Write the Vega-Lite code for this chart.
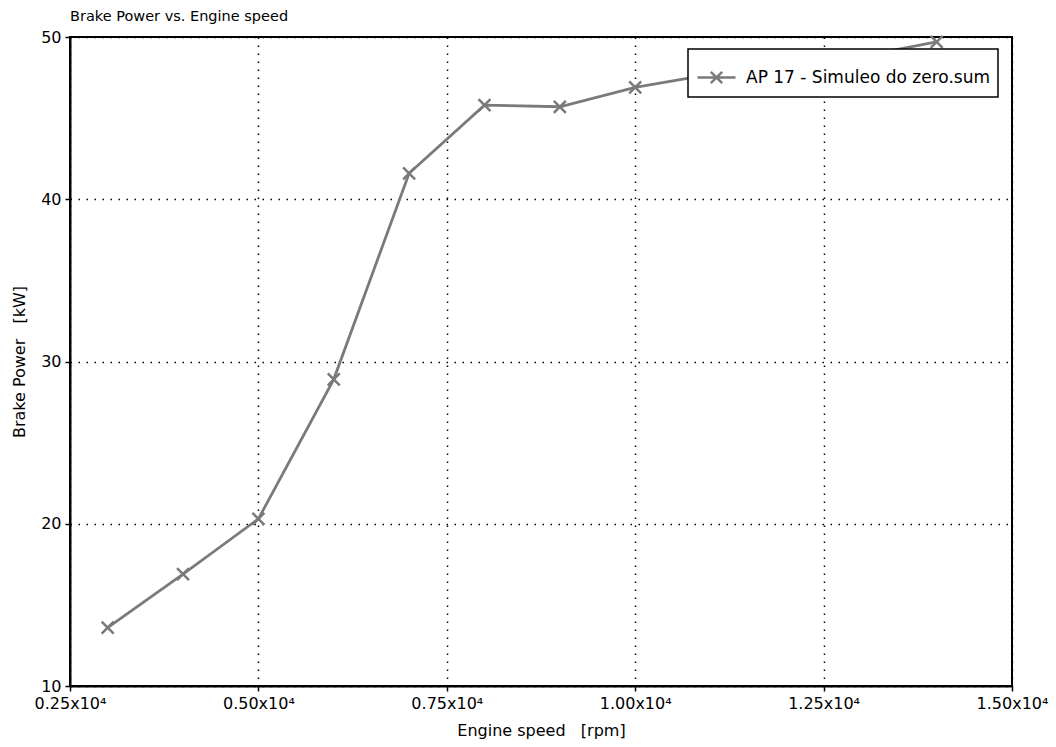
{
  "$schema": "https://vega.github.io/schema/vega-lite/v6.json",
  "width": 942,
  "height": 649,
  "autosize": {"type": "none"},
  "padding": {"left": 70, "top": 37, "right": 44, "bottom": 61},
  "background": "white",
  "title": {
    "text": "Brake Power vs. Engine speed",
    "anchor": "start",
    "frame": "group",
    "fontSize": 14.5,
    "fontWeight": "normal",
    "font": "DejaVu Sans",
    "color": "black",
    "offset": 5
  },
  "config": {
    "view": {"stroke": "black", "strokeWidth": 2},
    "axis": {
      "labelFont": "DejaVu Sans",
      "titleFont": "DejaVu Sans",
      "titleFontWeight": "normal",
      "labelColor": "black",
      "titleColor": "black",
      "domainColor": "black",
      "domainWidth": 2,
      "tickColor": "black",
      "tickWidth": 1.5,
      "tickSize": 5,
      "gridColor": "black",
      "gridOpacity": 1,
      "gridWidth": 1.5,
      "gridDash": [1.5, 6.5]
    }
  },
  "data": {
    "values": [
      {"rpm": 3000, "power": 13.6, "series": "AP 17 - Simuleo do zero.sum"},
      {"rpm": 4000, "power": 16.9, "series": "AP 17 - Simuleo do zero.sum"},
      {"rpm": 5000, "power": 20.3, "series": "AP 17 - Simuleo do zero.sum"},
      {"rpm": 6000, "power": 28.9, "series": "AP 17 - Simuleo do zero.sum"},
      {"rpm": 7000, "power": 41.6, "series": "AP 17 - Simuleo do zero.sum"},
      {"rpm": 8000, "power": 45.8, "series": "AP 17 - Simuleo do zero.sum"},
      {"rpm": 9000, "power": 45.7, "series": "AP 17 - Simuleo do zero.sum"},
      {"rpm": 10000, "power": 46.9, "series": "AP 17 - Simuleo do zero.sum"},
      {"rpm": 11000, "power": 47.7, "series": "AP 17 - Simuleo do zero.sum"},
      {"rpm": 12000, "power": 48.3, "series": "AP 17 - Simuleo do zero.sum"},
      {"rpm": 13000, "power": 48.8, "series": "AP 17 - Simuleo do zero.sum"},
      {"rpm": 14000, "power": 49.7, "series": "AP 17 - Simuleo do zero.sum"}
    ]
  },
  "encoding": {
    "x": {
      "field": "rpm",
      "type": "quantitative",
      "scale": {"domain": [2500, 15000], "nice": false, "zero": false},
      "axis": {
        "title": "Engine speed \u00a0 [rpm]",
        "values": [2500, 5000, 7500, 10000, 12500, 15000],
        "labelExpr": "format(datum.value / 10000, '.2f') + 'x10⁴'",
        "labelFontSize": 16,
        "titleFontSize": 16,
        "labelPadding": 4,
        "titlePadding": 11,
        "labelFlush": false,
        "labelOverlap": false
      }
    },
    "y": {
      "field": "power",
      "type": "quantitative",
      "scale": {"domain": [10, 50], "nice": false, "zero": false},
      "axis": {
        "title": "Brake Power \u00a0 [kW]",
        "values": [10, 20, 30, 40, 50],
        "labelFontSize": 16,
        "titleFontSize": 16,
        "labelPadding": 4,
        "titlePadding": 13
      }
    },
    "color": {
      "field": "series",
      "type": "nominal",
      "scale": {"range": ["#7a7a7a"]},
      "legend": {
        "title": null,
        "orient": "none",
        "legendX": 618,
        "legendY": 12,
        "fillColor": "white",
        "strokeColor": "black",
        "padding": 8,
        "labelFont": "DejaVu Sans",
        "labelFontSize": 17,
        "labelColor": "black",
        "labelOffset": 9,
        "labelLimit": 400,
        "symbolType": "M-1,0L1,0M-0.3,-0.3L0.3,0.3M-0.3,0.3L0.3,-0.3",
        "symbolSize": 1444,
        "symbolStrokeWidth": 2.5,
        "symbolFillColor": "transparent",
        "symbolStrokeColor": "#7a7a7a",
        "encode": {"legend": {"update": {"strokeWidth": {"value": 1.5}}}}
      }
    }
  },
  "layer": [
    {"mark": {"type": "line", "strokeWidth": 2.8}},
    {
      "mark": {
        "type": "point",
        "shape": "M-1,-1L1,1M-1,1L1,-1",
        "size": 144,
        "filled": false,
        "strokeWidth": 2.5,
        "opacity": 1
      }
    }
  ]
}
